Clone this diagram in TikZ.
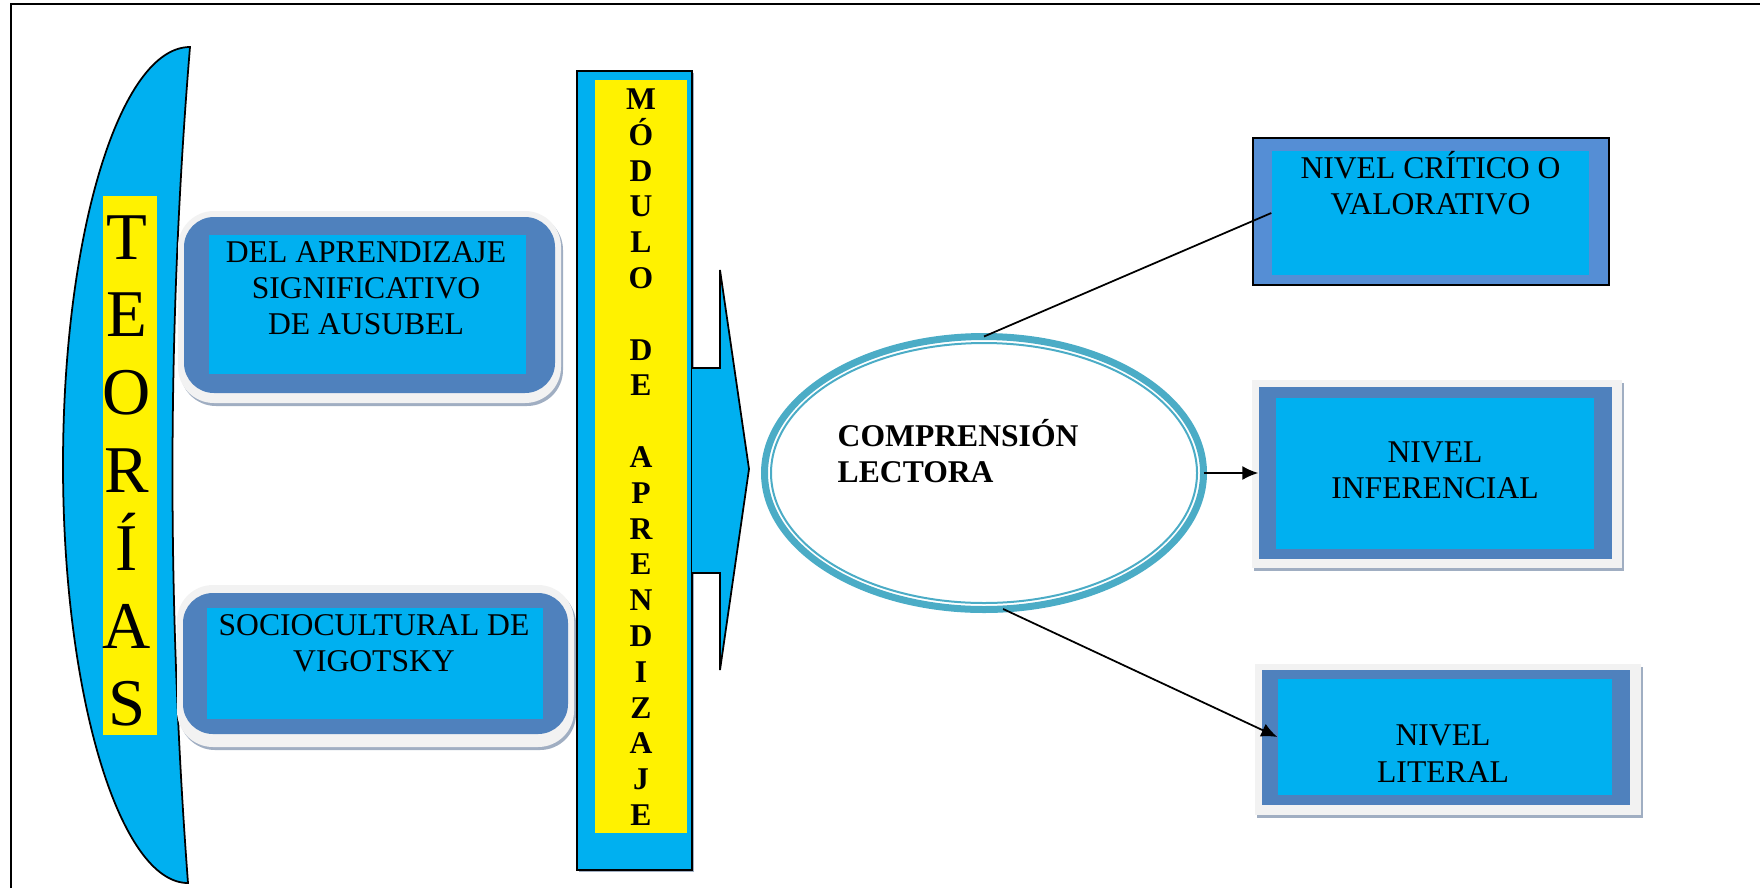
\documentclass[tikz,border=0pt]{standalone}
\usepackage{fontspec}
\setmainfont{Liberation Serif}
\usetikzlibrary{arrows.meta,shapes.geometric,shadows}
\definecolor{cyanfill}{RGB}{0,176,240}
\definecolor{boxblue}{RGB}{79,129,189}
\definecolor{critblue}{RGB}{85,142,213}
\definecolor{ringteal}{RGB}{75,172,198}
\definecolor{glowgray}{RGB}{242,242,242}
\definecolor{shadegray}{RGB}{160,174,194}

\begin{document}
\begin{tikzpicture}[x=0.1mm,y=-0.1mm,
    glow/.style={fill=glowgray,inner sep=0pt,drop shadow={shadow xshift=0.2mm,shadow yshift=-0.3mm,fill=shadegray,opacity=1}},
    bluebox/.style={fill=boxblue,inner sep=0pt},
    cyanbox/.style={fill=cyanfill,inner sep=0pt},
    txt/.style={align=center,inner sep=0pt,font=\fontsize{9}{10.3}\selectfont},
    bigletter/.style={anchor=base,inner sep=0pt,font=\fontsize{19}{19}\selectfont},
    smallletter/.style={anchor=base,inner sep=0pt,font=\bfseries\fontsize{9}{9}\selectfont},
    link/.style={line width=0.5pt},
    linkarrow/.style={line width=0.5pt,-{Latex[length=1.6mm,width=1.4mm]}},
  ]
\useasboundingbox (0,0) rectangle (1760,888);
\draw[line width=0.6pt] (11,888) -- (11,4) -- (1760,4);

% teorias
\draw[fill=cyanfill,line width=0.5pt] (190,47) .. controls (120,47) and (63,234) .. (63,465)
  .. controls (63,696) and (120,883) .. (188,883) .. controls (167,604) and (167,325) .. cycle;
\node[fill=yellow,minimum width=5.4mm,minimum height=53.9mm,inner sep=0pt] (teoriasbar) at (130,465.5) {};
\foreach \l [count=\i from 0] in {T,E,O,R,Í,A,S}
  \node[bigletter] (teo\i) at (127,259+77.8*\i) {\l};

\node[glow,rounded corners=3.6mm,minimum width=38.3mm,minimum height=19.2mm] (ausubelglow) at (369.5,307) {};
\node[bluebox,rounded corners=3mm,minimum width=37.1mm,minimum height=17.6mm] (ausubelbox) at (369.5,305) {};
\node[cyanbox,minimum width=31.7mm,minimum height=13.9mm] (ausubel) at (367.5,304.5) {};
\node[txt] (ausubeltxt) at (366,288.5) {DEL APRENDIZAJE\\SIGNIFICATIVO\\DE AUSUBEL};

\node[glow,rounded corners=3.6mm,minimum width=39.7mm,minimum height=16.2mm] (vigotskyglow) at (375.5,666) {};
\node[bluebox,rounded corners=3mm,minimum width=38.5mm,minimum height=14.1mm] (vigotskybox) at (375.5,663.5) {};
\node[cyanbox,minimum width=33.6mm,minimum height=11.1mm] (vigotsky) at (375,663.5) {};
\node[txt] (vigotskytxt) at (374,643.6) {SOCIOCULTURAL DE\\VIGOTSKY};

% modulo
\node[draw,line width=0.5pt,fill=cyanfill,inner sep=0pt,minimum width=11.5mm,minimum height=79.9mm,
  drop shadow={shadow xshift=0.2mm,shadow yshift=-0.2mm,fill=shadegray,opacity=1}] (modulobox) at (634.5,470.5) {};
\node[fill=yellow,inner sep=0pt,minimum width=9.2mm,minimum height=75.3mm] (modulobar) at (641,456.5) {};
\foreach \l/\k in {M/0,Ó/1,D/2,U/3,L/4,O/5,D/7,E/8,A/10,P/11,R/12,E/13,N/14,D/15,I/16,Z/17,A/18,J/19,E/20}
  \node[smallletter] (mod\k) at (641,109.5+35.8*\k) {\l};
\draw[fill=cyanfill,line width=0.5pt] (692,368) -- (720,368) -- (720,270) -- (749,469) -- (720,670) -- (720,573) -- (692,573);

% comprension
\node[ellipse,draw=ringteal,line width=0.7mm,outer sep=0pt,inner sep=0pt,minimum width=43.9mm,minimum height=27.3mm] (compr) at (984,473) {};
\draw[ringteal,line width=0.2mm] (compr.center) ellipse [x radius=21.3mm,y radius=13mm];
\node[txt,align=left,anchor=west,font=\bfseries\fontsize{9}{10.3}\selectfont] (comprtxt) at (837,451) {COMPRENSIÓN\\LECTORA};

% niveles
\node[draw,line width=0.5pt,fill=critblue,inner sep=0pt,minimum width=35.6mm,minimum height=14.7mm] (criticobox) at (1431,211.5) {};
\node[cyanbox,minimum width=31.7mm,minimum height=12.4mm] (critico) at (1430.5,213) {};
\node[txt] (criticotxt) at (1430.5,183) {NIVEL CRÍTICO O\\VALORATIVO};

\node[glow,minimum width=37mm,minimum height=18.8mm] (inferglow) at (1437,474) {};
\node[bluebox,minimum width=35.3mm,minimum height=17.2mm] (inferencial) at (1435.5,473) {};
\node[cyanbox,minimum width=31.8mm,minimum height=15.1mm] (inferin) at (1435,473.5) {};
\node[txt] (infertxt) at (1435,470.6) {NIVEL\\INFERENCIAL};

\node[glow,minimum width=38.6mm,minimum height=15.1mm] (literalglow) at (1448,739) {};
\node[bluebox,minimum width=36.8mm,minimum height=13.5mm] (literalbox) at (1446,737.5) {};
\node[cyanbox,minimum width=33.4mm,minimum height=11.6mm] (literal) at (1445,737) {};
\node[txt] (literaltxt) at (1443,753.6) {NIVEL\\LITERAL};

\draw[link] (compr.north) -- (critico.west);
\draw[linkarrow] (compr.east) -- (inferencial.west);
\draw[linkarrow] (compr.-82) -- (literal.west);

\end{tikzpicture}
\end{document}
